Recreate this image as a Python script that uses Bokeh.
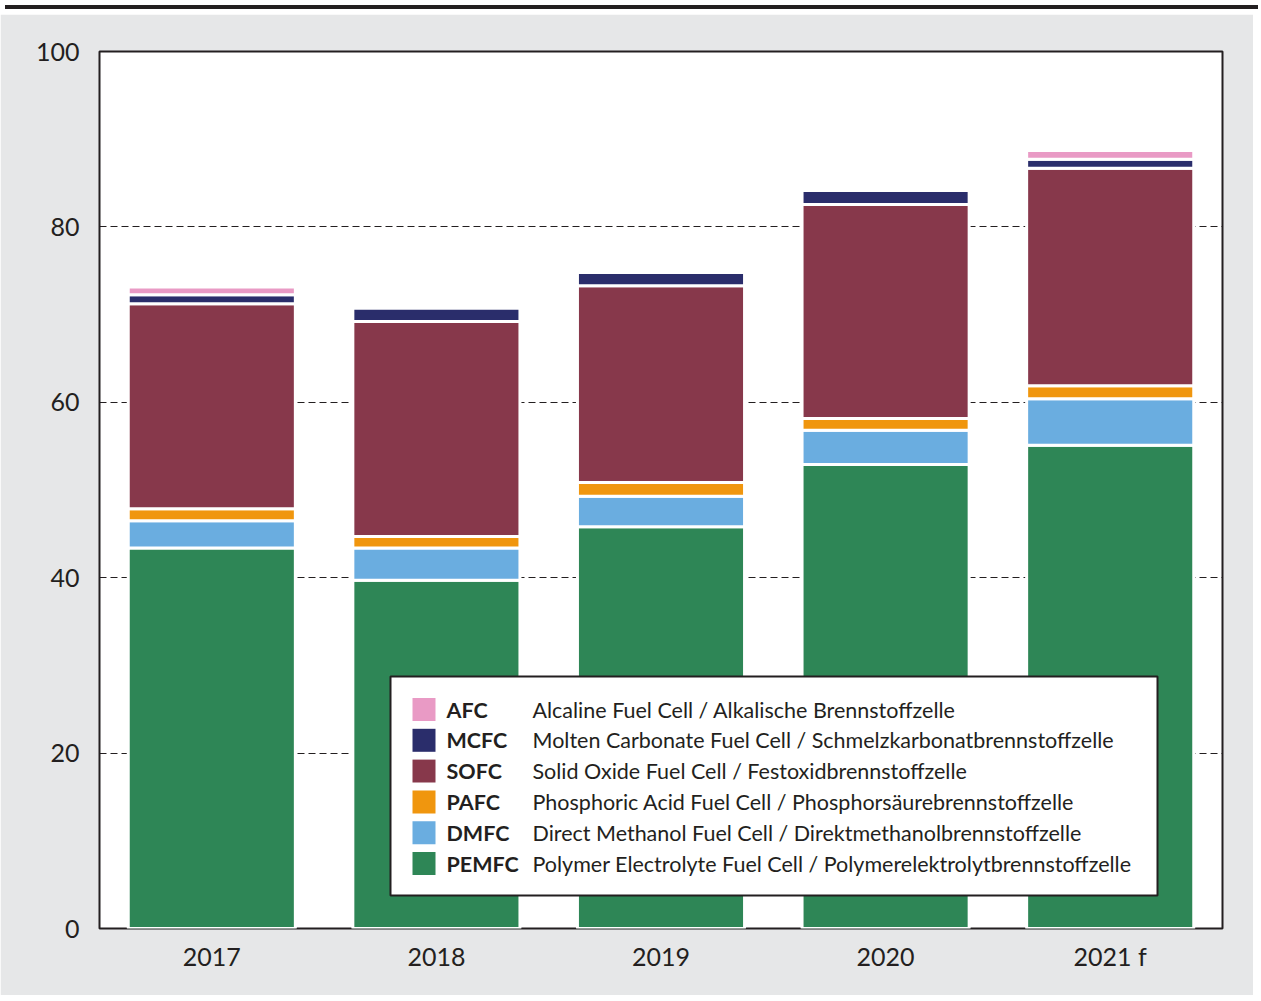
from bokeh.plotting import figure
from bokeh.models import FactorRange, Range1d, FixedTicker, ColumnDataSource, Div
from bokeh.layouts import column
from bokeh.core.properties import value
from bokeh.embed import file_html
from bokeh.resources import INLINE

# ---------------- data ----------------
years = ["2017", "2018", "2019", "2020", "2021 f"]
pemfc = [43.4, 39.7, 45.8, 52.9, 55.1]
dmfc = [3.1, 3.7, 3.5, 3.9, 5.3]
pafc = [1.35, 1.3, 1.55, 1.35, 1.5]
sofc = [23.4, 24.5, 22.45, 24.4, 24.8]
mcfc = [1.0, 1.55, 1.5, 1.6, 1.0]
afc = [0.9, 0.0, 0.0, 0.0, 1.0]

series_keys = ["PEMFC", "DMFC", "PAFC", "SOFC", "MCFC", "AFC"]
series_colors = ["#2e8656", "#6aade0", "#f0960e", "#87384b", "#2a2d6b", "#e99ac5"]

legend_abbr = ["AFC", "MCFC", "SOFC", "PAFC", "DMFC", "PEMFC"]
legend_desc = [
    "Alcaline Fuel Cell / Alkalische Brennstoffzelle",
    "Molten Carbonate Fuel Cell / Schmelzkarbonatbrennstoffzelle",
    "Solid Oxide Fuel Cell / Festoxidbrennstoffzelle",
    "Phosphoric Acid Fuel Cell / Phosphorsäurebrennstoffzelle",
    "Direct Methanol Fuel Cell / Direktmethanolbrennstoffzelle",
    "Polymer Electrolyte Fuel Cell / Polymerelektrolytbrennstoffzelle",
]
legend_colors = ["#e99ac5", "#2a2d6b", "#87384b", "#f0960e", "#6aade0", "#2e8656"]
y_ticks = [0, 20, 40, 60, 80, 100]

TEXT = "#231f20"
BG = "#e6e7e8"
FONT = "Lato"

# ---------------- figure ----------------
W, H = 1253, 981
p = figure(
    x_range=FactorRange(factors=years, range_padding=0),
    y_range=Range1d(0, 100),
    width=W, height=H,
    output_backend="svg", toolbar_location=None,
    min_border_left=99, min_border_right=31,
    min_border_top=37, min_border_bottom=67,
)
p.background_fill_color = "white"
p.border_fill_color = BG
p.outline_line_color = TEXT
p.outline_line_width = 2

p.xgrid.grid_line_color = None
p.ygrid.grid_line_color = TEXT
p.ygrid.grid_line_dash = "7 4"
p.ygrid.grid_line_width = 1
p.yaxis.ticker = FixedTicker(ticks=y_ticks)

for ax in (p.xaxis, p.yaxis):
    ax.axis_line_color = None
    ax.major_tick_line_color = None
    ax.minor_tick_line_color = None
    ax.major_label_text_font = FONT
    ax.major_label_text_font_size = "25px"
    ax.major_label_text_color = TEXT
p.yaxis.major_label_standoff = 14
p.xaxis.major_label_standoff = 6

src = ColumnDataSource(dict(years=years, PEMFC=pemfc, DMFC=dmfc, PAFC=pafc,
                            SOFC=sofc, MCFC=mcfc, AFC=afc))
p.vbar_stack(series_keys, x="years", width=0.744, source=src,
             fill_color=series_colors, line_color="white", line_width=3)

# ---------------- legend box (drawn manually) ----------------
FX0, FX1, FY0, FY1 = 99.0, 1222.0, 929.0, 52.0   # frame in page px
def gx(px):
    return (px - FX0) / (FX1 - FX0) * len(years)
def gy(py):
    return (FY0 - py) / (FY0 - FY1) * 100.0

p.quad(left=[gx(390)], right=[gx(1157)], top=[gy(677)], bottom=[gy(896)],
       fill_color="white", line_color=TEXT, line_width=2)

row_py = [710 + 30.8 * i for i in range(len(legend_abbr))]
ly = [gy(v) for v in row_py]
p.rect(x=[gx(423.5)] * len(ly), y=ly, width=23, height=23,
       width_units="screen", height_units="screen",
       fill_color=legend_colors, line_color=None)
p.text(x=[gx(446)] * len(ly), y=ly, text=legend_abbr,
       text_font=value(FONT), text_font_style="bold", text_font_size="21.5px",
       text_color=TEXT, text_baseline="middle", text_align="left")
p.text(x=[gx(532)] * len(ly), y=ly, text=legend_desc,
       text_font=value(FONT), text_font_size="21.5px",
       text_color=TEXT, text_baseline="middle", text_align="left")

band = Div(text="", width=W, height=4,
           styles={"background-color": "#231f20"})
layout = column(band, p, spacing=0)

open("out.html", "w").write(file_html(layout, INLINE))
